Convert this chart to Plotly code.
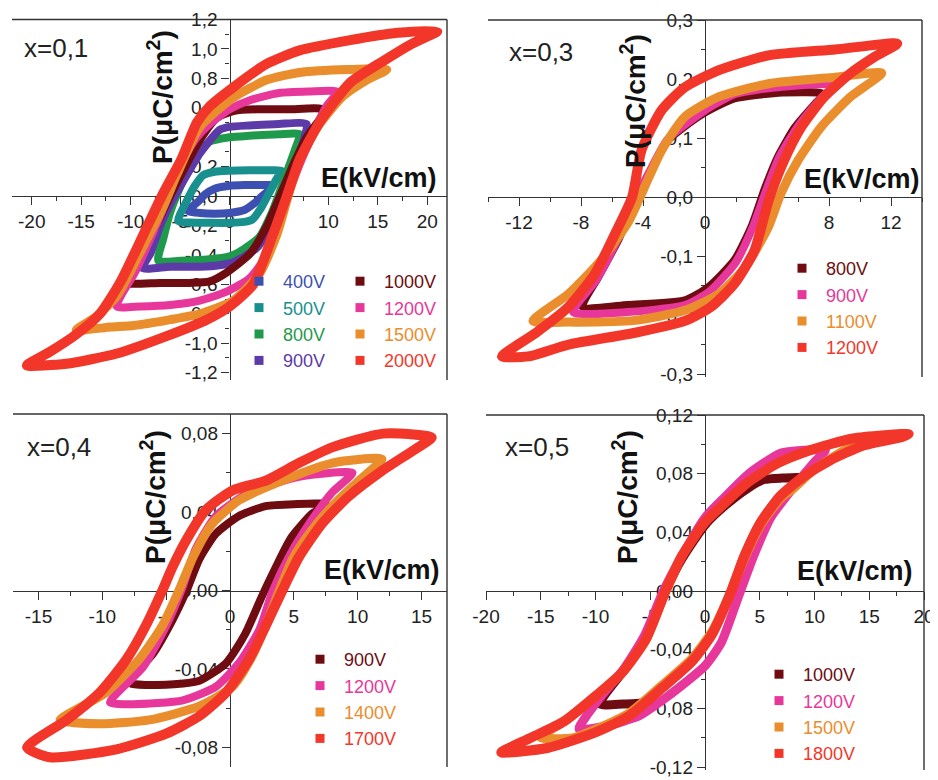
import plotly.graph_objects as go

W, H = 938, 780
OFF = 8  # page offset of the figure (default body margin)

# ---------------- colours ----------------
C_BLUE = '#3d50b2'
C_TEAL = '#17908e'
C_GREEN = '#1f9a4c'
C_PURPLE = '#5c3aa8'
C_DRED = '#6e0c12'
C_MAG = '#e8379a'
C_ORANGE = '#ea8d2c'
C_RED = '#f2372a'

# ---------------- panel 1 : x=0,1 ----------------
p1_400_E = [4.4, 3, 1.5, 0, -1.5, -2.5, -3.2, -4.2, -3, -1.5, 0, 1.5, 2.5, 3.3, 4.4]
p1_400_P = [0.07, 0.075, 0.075, 0.07, 0.05, 0.01, -0.04, -0.10, -0.115, -0.12, -0.115, -0.095, -0.05, 0.0, 0.07]
p1_500_E = [5.3, 4, 2, 0, -1.5, -2.7, -3.5, -4.3, -5.2, -4, -2, 0, 1.5, 2.3, 3.2, 4, 4.8, 5.3]
p1_500_P = [0.17, 0.175, 0.175, 0.172, 0.165, 0.14, 0.07, -0.03, -0.17, -0.18, -0.182, -0.182, -0.175, -0.16, -0.08, 0.02, 0.12, 0.17]
p1_800_E = [7.1, 5, 2, 0, -2, -3.7, -5, -6, -6.7, -7.2, -5, -2, 0, 1, 3, 4.3, 5.2, 6, 6.7, 7.1]
p1_800_P = [0.42, 0.42, 0.41, 0.40, 0.37, 0.25, 0.06, -0.11, -0.29, -0.44, -0.44, -0.43, -0.41, -0.38, -0.28, -0.11, 0.05, 0.2, 0.33, 0.42]
p1_900_E = [7.8, 5, 2, 0, -1, -3, -4.7, -5.8, -7, -8, -8.8, -6, -3, -1, 0.4, 2.8, 4.4, 5.4, 6.5, 7.5, 7.8]
p1_900_P = [0.49, 0.49, 0.48, 0.47, 0.45, 0.29, 0.1, -0.03, -0.2, -0.39, -0.49, -0.48, -0.48, -0.47, -0.45, -0.35, -0.16, 0.02, 0.19, 0.38, 0.49]
p1_1000_E = [9.5, 6, 3, 0.5, -1.3, -3, -4.7, -6, -7.4, -9.1, -10.4, -10.6, -7, -4, -2, -0.3, 2.1, 3.8, 5.1, 6.5, 7.8, 9.2, 9.5]
p1_1000_P = [0.59, 0.59, 0.59, 0.58, 0.53, 0.38, 0.17, 0.0, -0.2, -0.39, -0.54, -0.59, -0.59, -0.59, -0.58, -0.52, -0.39, -0.2, 0.0, 0.22, 0.4, 0.53, 0.59]
p1_1200_E = [10.9, 8, 5, 2, 0, -2, -3.3, -4.5, -5.5, -6.5, -8, -9.5, -11.4, -9, -6, -3, -0.3, 2, 3.5, 4.8, 5.8, 7, 8.5, 9.8, 10.9]
p1_1200_P = [0.71, 0.71, 0.70, 0.65, 0.59, 0.49, 0.40, 0.27, 0.12, -0.05, -0.29, -0.51, -0.75, -0.75, -0.74, -0.71, -0.65, -0.56, -0.43, -0.23, -0.02, 0.2, 0.43, 0.61, 0.71]
p1_1500_E = [15.9, 12, 7.1, 3.8, 0.4, -3, -5.3, -6.7, -9.1, -11.4, -13.5, -15.5, -12, -9.7, -6, -3, 0.4, 3.1, 4.8, 5.8, 7.1, 8.9, 11.5, 13.9, 15.9]
p1_1500_P = [0.86, 0.86, 0.84, 0.79, 0.67, 0.47, 0.15, -0.07, -0.39, -0.68, -0.82, -0.91, -0.89, -0.88, -0.84, -0.80, -0.71, -0.52, -0.26, -0.03, 0.25, 0.47, 0.68, 0.79, 0.86]
p1_2000_E = [21, 17, 12.2, 7.1, 3.8, 0.4, -2, -3.3, -4.8, -6.7, -8.7, -11, -13.1, -15.5, -18.2, -20.5,
             -16.5, -11.4, -6.3, -2.3, 0, 2.4, 4.4, 5.8, 7.1, 9.2, 12.2, 15.6, 18.3, 21]
p1_2000_P = [1.12, 1.11, 1.06, 0.99, 0.90, 0.74, 0.61, 0.50, 0.26, 0.02, -0.26, -0.58, -0.80, -0.94, -1.06, -1.15,
             -1.14, -1.07, -0.95, -0.84, -0.75, -0.60, -0.26, 0.0, 0.25, 0.51, 0.77, 0.92, 1.03, 1.12]

# ---------------- panel 2 : x=0,3 ----------------
p2_800_E = [7.7, 5, 1.9, -0.2, -2.4, -3.6, -4.5, -5.6, -6.9, -7.9, -5, -1.3, 0.2, 1.9, 3, 3.9, 4.7, 5.8, 7.1, 7.7]
p2_800_P = [0.175, 0.177, 0.167, 0.14, 0.096, 0.04, -0.006, -0.073, -0.136, -0.186, -0.183, -0.175, -0.153, -0.107, -0.05, 0.017, 0.068, 0.118, 0.158, 0.175]
p2_900_E = [8.3, 5, 2, 0, -2.4, -3.6, -4.5, -5.6, -7, -8.5, -5, -1.3, 0.3, 2, 3.1, 4, 4.8, 6, 7.5, 8.3]
p2_900_P = [0.19, 0.187, 0.175, 0.147, 0.098, 0.042, -0.004, -0.07, -0.14, -0.195, -0.195, -0.183, -0.16, -0.11, -0.05, 0.015, 0.068, 0.12, 0.168, 0.19]
p2_1100_E = [11.4, 8.4, 4.1, 0.9, -1.3, -2.8, -3.9, -4.9, -6.7, -8.8, -11.1, -8.8, -4.5, -1.3, 0.9, 2.6, 4.1, 4.9, 6, 7.5, 9.4, 11.4]
p2_1100_P = [0.21, 0.203, 0.192, 0.17, 0.136, 0.079, 0.017, -0.04, -0.107, -0.164, -0.21, -0.212, -0.209, -0.192, -0.164, -0.119, -0.05, 0.006, 0.062, 0.119, 0.17, 0.21]
p2_1200_E = [12.4, 8.4, 4.1, 0.9, -1.3, -2.8, -4.1, -4.7, -5.8, -7.1, -8.8, -10.9, -13.1,
             -11.4, -8.8, -4.5, -1.3, 0.4, 1.9, 3.2, 4.1, 5.1, 6.2, 7.7, 9.4, 10.9, 12.4]
p2_1200_P = [0.26, 0.25, 0.24, 0.215, 0.186, 0.147, 0.079, 0.0, -0.062, -0.13, -0.186, -0.23, -0.27,
             -0.27, -0.25, -0.23, -0.21, -0.186, -0.147, -0.09, -0.006, 0.062, 0.118, 0.17, 0.21, 0.237, 0.26]

# ---------------- panel 3 : x=0,4 ----------------
p3_900_E = [7.5, 5, 2.8, 0.7, -1.1, -2.4, -3.4, -4.5, -6, -7.9, -5, -2.4, -0.3, 1.2, 2.5, 3.6, 4.8, 6.4, 7.5]
p3_900_P = [0.044, 0.044, 0.043, 0.038, 0.029, 0.016, 0.0, -0.015, -0.032, -0.047, -0.048, -0.046, -0.037, -0.022, -0.003, 0.012, 0.027, 0.039, 0.044]
p3_1200_E = [9.6, 5.4, 1.5, -1.1, -2.7, -3.7, -5, -6.8, -9.4, -7.6, -3.7, -1.1, 0.7, 2.3, 3.3, 4.6, 6.2, 8, 9.6]
p3_1200_P = [0.06, 0.058, 0.05, 0.038, 0.021, 0.002, -0.018, -0.039, -0.057, -0.058, -0.056, -0.049, -0.037, -0.02, -0.001, 0.017, 0.034, 0.05, 0.06]
p3_1400_E = [11.9, 8, 4.1, 0.7, -1.4, -2.9, -4, -5.3, -7.1, -9.7, -13.3, -10.2, -6.3, -2.4, 0.2, 1.7, 2.8, 3.8, 4.9, 6.2, 8, 10.1, 11.9]
p3_1400_P = [0.067, 0.065, 0.056, 0.046, 0.034, 0.017, 0.0, -0.018, -0.035, -0.052, -0.066, -0.068, -0.066, -0.059, -0.049, -0.034, -0.018, -0.001, 0.016, 0.029, 0.043, 0.056, 0.067]
p3_1700_E = [15.8, 12, 8, 5.4, 2.8, 0.2, -1.9, -3.4, -4.5, -5.3, -6.6, -8.1, -10.2, -12.8, -15.9,
             -14.1, -8.9, -5, -2.4, -0.3, 1.5, 2.8, 4.1, 5.4, 7.2, 9.3, 11.9, 14.5, 15.8]
p3_1700_P = [0.078, 0.08, 0.073, 0.065, 0.056, 0.051, 0.041, 0.026, 0.012, 0.0, -0.018, -0.035, -0.052, -0.066, -0.08,
             -0.085, -0.081, -0.073, -0.064, -0.052, -0.035, -0.018, 0.0, 0.017, 0.034, 0.048, 0.061, 0.072, 0.078]

# ---------------- panel 4 : x=0,5 ----------------
p4_1000_E = [9, 7, 5.4, 3.9, 1.8, 0, -2.1, -3.6, -5.4, -7.5, -9.6,
             -7.5, -5.7, -3.9, -1.2, 0.6, 2.4, 3.6, 5.1, 6.9, 9]
p4_1000_P = [0.077, 0.077, 0.076, 0.07, 0.058, 0.045, 0.022, 0.0, -0.033, -0.055, -0.077,
             -0.077, -0.076, -0.066, -0.048, -0.03, 0.0, 0.024, 0.047, 0.065, 0.077]
p4_1200_E = [11, 9, 6.9, 4, 1.8, 0, -2.4, -3.8, -5.5, -7.5, -9.5, -11.5,
             -9, -6, -4, -2.4, 0, 1.5, 3, 4.5, 6, 8, 10, 11]
p4_1200_P = [0.096, 0.096, 0.094, 0.08, 0.064, 0.05, 0.02, 0.0, -0.03, -0.054, -0.072, -0.094,
             -0.092, -0.085, -0.075, -0.066, -0.051, -0.035, -0.005, 0.025, 0.05, 0.07, 0.088, 0.096]
p4_1500_E = [15, 13, 9.6, 6.6, 3.9, 1.8, 0, -2.1, -3.6, -5.4, -7.5, -9.9, -12.9, -15,
             -12, -9.9, -6.9, -3.9, -1.2, 0.6, 2.4, 3.6, 5.1, 6.9, 8.1, 10, 12.5, 15]
p4_1500_P = [0.104, 0.103, 0.096, 0.087, 0.074, 0.06, 0.047, 0.024, 0.0, -0.033, -0.055, -0.071, -0.089, -0.1,
             -0.1, -0.094, -0.083, -0.064, -0.046, -0.028, 0.0, 0.022, 0.045, 0.063, 0.07, 0.083, 0.095, 0.104]
p4_1800_E = [18.6, 13.5, 9.6, 6.6, 3.9, 1.8, 0, -2.1, -3.6, -5.4, -7.5, -9.9, -12.9, -15.9, -18.6,
             -14.4, -9.9, -6.9, -3.9, -1.2, 0.6, 2.4, 3.6, 5.1, 6.9, 9, 11.4, 14.4, 18, 18.6]
p4_1800_P = [0.107, 0.104, 0.096, 0.087, 0.074, 0.06, 0.047, 0.024, 0.0, -0.033, -0.055, -0.071, -0.089, -0.1, -0.11,
             -0.107, -0.096, -0.085, -0.066, -0.048, -0.03, 0.0, 0.024, 0.047, 0.065, 0.078, 0.089, 0.099, 0.105, 0.107]

# ---------------- tick values / labels ----------------
p1_xticks = [-20, -15, -10, -5, 0, 5, 10, 15, 20]
p1_xlabels = ['-20', '-15', '-10', '-5', '0', '5', '10', '15', '20']
p1_yticks = [-1.2, -1.0, -0.8, -0.6, -0.4, -0.2, 0.0, 0.2, 0.4, 0.6, 0.8, 1.0, 1.2]
p1_ylabels = ['-1,2', '-1,0', '-0,8', '-0,6', '-0,4', '-0,2', '0,0', '0,2', '0,4', '0,6', '0,8', '1,0', '1,2']
p2_xticks = [-12, -8, -4, 0, 4, 8, 12]
p2_xlabels = ['-12', '-8', '-4', '0', '4', '8', '12']
p2_yticks = [-0.3, -0.2, -0.1, 0.0, 0.1, 0.2, 0.3]
p2_ylabels = ['-0,3', '-0,2', '-0,1', '0,0', '0,1', '0,2', '0,3']
p3_xticks = [-15, -10, -5, 0, 5, 10, 15]
p3_xlabels = ['-15', '-10', '-5', '0', '5', '10', '15']
p3_yticks = [-0.08, -0.04, 0.0, 0.04, 0.08]
p3_ylabels = ['-0,08', '-0,04', '0,00', '0,04', '0,08']
p4_xticks = [-20, -15, -10, -5, 0, 5, 10, 15, 20]
p4_xlabels = ['-20', '-15', '-10', '-5', '0', '5', '10', '15', '20']
p4_yticks = [-0.12, -0.08, -0.04, 0.0, 0.04, 0.08, 0.12]
p4_ylabels = ['-0,12', '-0,08', '-0,04', '0,00', '0,04', '0,08', '0,12']

# ---------------- layout of panels (page pixels) ----------------
panels = [
    dict(px=(12, 447), py=(19.5, 380), xr=[-22, 22], yr=[-1.25, 1.2], xminor=2.5, yminor=0.1,
         xt=(p1_xticks, p1_xlabels), yt=(p1_yticks, p1_ylabels), label='x=0,1', lab_xy=(22, 48),
         P_xy=(160, 97), E_xy=(379, 178)),
    dict(px=(488, 922), py=(20, 377), xr=[-14, 14], yr=[-0.305, 0.3], xminor=2, yminor=0.05,
         xt=(p2_xticks, p2_xlabels), yt=(p2_yticks, p2_ylabels), label='x=0,3', lab_xy=(507, 52),
         P_xy=(633, 101), E_xy=(862, 179)),
    dict(px=(13, 447), py=(414, 767), xr=[-17, 17], yr=[-0.09, 0.09], xminor=2.5, yminor=0.02,
         xt=(p3_xticks, p3_xlabels), yt=(p3_yticks, p3_ylabels), label='x=0,4', lab_xy=(25, 447),
         P_xy=(153, 497), E_xy=(382, 570)),
    dict(px=(486, 924), py=(415, 770), xr=[-20, 20], yr=[-0.122, 0.12], xminor=2.5, yminor=0.02,
         xt=(p4_xticks, p4_xlabels), yt=(p4_yticks, p4_ylabels), label='x=0,5', lab_xy=(503, 447),
         P_xy=(625, 497), E_xy=(855, 571)),
]

series = [
    # panel, name, color, E, P, width, legend
    (0, '400V', C_BLUE, p1_400_E, p1_400_P, 8, 'legend'),
    (0, '500V', C_TEAL, p1_500_E, p1_500_P, 8, 'legend'),
    (0, '800V', C_GREEN, p1_800_E, p1_800_P, 8, 'legend'),
    (0, '900V', C_PURPLE, p1_900_E, p1_900_P, 8, 'legend'),
    (0, '1000V', C_DRED, p1_1000_E, p1_1000_P, 8, 'legend2'),
    (0, '1200V', C_MAG, p1_1200_E, p1_1200_P, 8, 'legend2'),
    (0, '1500V', C_ORANGE, p1_1500_E, p1_1500_P, 9, 'legend2'),
    (0, '2000V', C_RED, p1_2000_E, p1_2000_P, 10, 'legend2'),
    (1, '800V', C_DRED, p2_800_E, p2_800_P, 8, 'legend3'),
    (1, '900V', C_MAG, p2_900_E, p2_900_P, 8, 'legend3'),
    (1, '1100V', C_ORANGE, p2_1100_E, p2_1100_P, 9, 'legend3'),
    (1, '1200V', C_RED, p2_1200_E, p2_1200_P, 10, 'legend3'),
    (2, '900V', C_DRED, p3_900_E, p3_900_P, 8, 'legend4'),
    (2, '1200V', C_MAG, p3_1200_E, p3_1200_P, 8, 'legend4'),
    (2, '1400V', C_ORANGE, p3_1400_E, p3_1400_P, 9, 'legend4'),
    (2, '1700V', C_RED, p3_1700_E, p3_1700_P, 10, 'legend4'),
    (3, '1000V', C_DRED, p4_1000_E, p4_1000_P, 9, 'legend5'),
    (3, '1200V', C_MAG, p4_1200_E, p4_1200_P, 9, 'legend5'),
    (3, '1500V', C_ORANGE, p4_1500_E, p4_1500_P, 9, 'legend5'),
    (3, '1800V', C_RED, p4_1800_E, p4_1800_P, 10, 'legend5'),
]

legend_pos = {  # marker centre x, first row centre y (page pixels)
    'legend': (255, 279), 'legend2': (356, 279), 'legend3': (798, 266),
    'legend4': (316, 657), 'legend5': (775, 672),
}


def fx(px):
    return (px - OFF) / W


def fy(py):
    return 1 - (py - OFF) / H


fig = go.Figure()
TXT = '#222222'
AX = '#333333'
FONT = 'Liberation Sans, Arial, sans-serif'


def ax_names(i):
    s = '' if i == 0 else str(i + 1)
    return 'x' + s, 'y' + s, 'xaxis' + s, 'yaxis' + s


for pi, name, col, E, P, w, leg in series:
    xa, ya, _, _ = ax_names(pi)
    fig.add_trace(go.Scatter(x=E, y=P, mode='lines',
                             line=dict(color=col, width=w, shape='spline', smoothing=0.6),
                             xaxis=xa, yaxis=ya, showlegend=False, hoverinfo='skip'))

for pi, name, col, E, P, w, leg in series:
    xa, ya, _, _ = ax_names(pi)
    fig.add_trace(go.Scatter(x=[None], y=[None], mode='markers',
                             marker=dict(symbol='square', size=9, color=col),
                             name=f"<span style='color:{col}'>{name}</span>",
                             xaxis=xa, yaxis=ya, legend=leg, showlegend=True))

shapes = []
annotations = []
layout = {}
for i, p in enumerate(panels):
    _, _, xk, yk = ax_names(i)
    xd = [fx(p['px'][0]), fx(p['px'][1])]
    yd = [fy(p['py'][1]), fy(p['py'][0])]
    yr, xr = p['yr'], p['xr']
    xpos = yd[0] + (0 - yr[0]) / (yr[1] - yr[0]) * (yd[1] - yd[0])
    ypos = xd[0] + (0 - xr[0]) / (xr[1] - xr[0]) * (xd[1] - xd[0])
    common = dict(showline=True, linecolor=AX, linewidth=1.4, ticks='outside', tickcolor=AX,
                  tickwidth=1.4, ticklen=8, showgrid=False, zeroline=False, layer='below traces',
                  automargin=False, tickfont=dict(family=FONT, size=19, color=TXT), fixedrange=True)
    layout[xk] = dict(domain=xd, range=xr, anchor='free', position=xpos,
                      tickmode='array', tickvals=p['xt'][0], ticktext=p['xt'][1],
                      minor=dict(ticks='outside', ticklen=4, tickwidth=1.2, tickcolor=AX, dtick=p['xminor'], tick0=0),
                      **common)
    layout[yk] = dict(domain=yd, range=yr, anchor='free', position=ypos,
                      tickmode='array', tickvals=p['yt'][0], ticktext=p['yt'][1],
                      minor=dict(ticks='outside', ticklen=4, tickwidth=1.2, tickcolor=AX, dtick=p['yminor'], tick0=0),
                      **common)
    # frame: top and right lines
    shapes.append(dict(type='line', xref='paper', yref='paper', x0=xd[0], x1=xd[1], y0=yd[1], y1=yd[1],
                       line=dict(color=AX, width=1.4)))
    shapes.append(dict(type='line', xref='paper', yref='paper', x0=xd[1], x1=xd[1], y0=yd[0], y1=yd[1],
                       line=dict(color=AX, width=1.4)))
    annotations.append(dict(text=p['label'], xref='paper', yref='paper', x=fx(p['lab_xy'][0]),
                            y=fy(p['lab_xy'][1]), xanchor='left', yanchor='middle', showarrow=False,
                            font=dict(family=FONT, size=26, color=TXT)))
    annotations.append(dict(text='<b>P(μC/cm<sup>2</sup>)</b>', xref='paper', yref='paper',
                            x=fx(p['P_xy'][0]), y=fy(p['P_xy'][1]), textangle=-90,
                            xanchor='center', yanchor='middle', showarrow=False,
                            font=dict(family=FONT, size=28, color='#111111')))
    annotations.append(dict(text='<b>E(kV/cm)</b>', xref='paper', yref='paper',
                            x=fx(p['E_xy'][0]), y=fy(p['E_xy'][1]),
                            xanchor='center', yanchor='middle', showarrow=False,
                            font=dict(family=FONT, size=27, color='#111111')))

for leg, (mx, my) in legend_pos.items():
    layout[leg] = dict(x=fx(mx - 20), y=fy(my - 16), xanchor='left', yanchor='top',
                       bgcolor='rgba(0,0,0,0)', borderwidth=0,
                       font=dict(family=FONT, size=18, color=TXT), itemwidth=38,
                       tracegroupgap=0)

fig.update_layout(template='none', width=W, height=H,
                  margin=dict(l=0, r=0, t=0, b=0, pad=0, autoexpand=False),
                  paper_bgcolor='white', plot_bgcolor='rgba(0,0,0,0)',
                  shapes=shapes, annotations=annotations, **layout)

fig.write_html('out.html')
